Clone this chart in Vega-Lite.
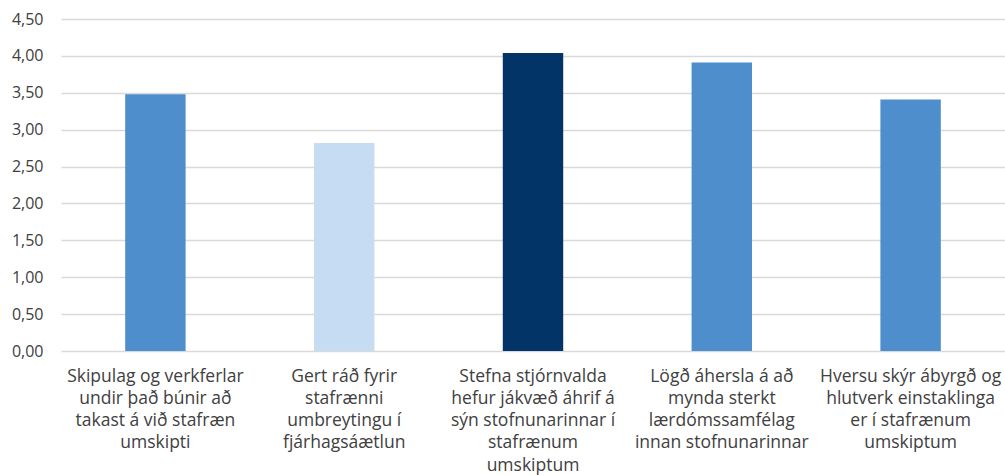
{
  "$schema": "https://vega.github.io/schema/vega-lite/v6.json",
  "width": 944,
  "height": 332,
  "autosize": {"type": "none"},
  "padding": {"left": 61, "top": 19, "right": 0, "bottom": 124},
  "background": "white",
  "data": {
    "values": [
      {"flokkur": "Skipulag og verkferlar\nundir það búnir að\ntakast á við stafræn\numskipti", "gildi": 3.48, "litur": "mid"},
      {"flokkur": "Gert ráð fyrir\nstafrænni\numbreytingu í\nfjárhagsáætlun", "gildi": 2.82, "litur": "light"},
      {"flokkur": "Stefna stjórnvalda\nhefur jákvæð áhrif á\nsýn stofnunarinnar í\nstafrænum\numskiptum", "gildi": 4.04, "litur": "dark"},
      {"flokkur": "Lögð áhersla á að\nmynda sterkt\nlærdómssamfélag\ninnan stofnunarinnar", "gildi": 3.91, "litur": "mid"},
      {"flokkur": "Hversu skýr ábyrgð og\nhlutverk einstaklinga\ner í stafrænum\numskiptum", "gildi": 3.41, "litur": "mid"}
    ]
  },
  "mark": {"type": "bar"},
  "encoding": {
    "x": {
      "field": "flokkur",
      "type": "nominal",
      "sort": null,
      "scale": {"paddingInner": 0.68, "paddingOuter": 0.34},
      "axis": {
        "title": null,
        "labelAngle": 0,
        "labelExpr": "split(datum.value, '\\n')",
        "labelFont": "Open Sans",
        "labelFontSize": 17.5,
        "labelColor": "#404040",
        "labelLineHeight": 22.3,
        "labelPadding": 16,
        "labelLimit": 300,
        "ticks": false,
        "domain": false,
        "grid": false
      }
    },
    "y": {
      "field": "gildi",
      "type": "quantitative",
      "scale": {"domain": [0, 4.5], "nice": false},
      "axis": {
        "title": null,
        "values": [0, 0.5, 1, 1.5, 2, 2.5, 3, 3.5, 4, 4.5],
        "labelExpr": "replace(format(datum.value, '.2f'), '.', ',')",
        "labelFont": "Open Sans",
        "labelFontSize": 16,
        "labelColor": "#404040",
        "labelPadding": 18,
        "ticks": false,
        "domain": false,
        "grid": true,
        "gridColor": "#d9d9d9",
        "gridWidth": 1.5
      }
    },
    "color": {
      "field": "litur",
      "type": "nominal",
      "scale": {"domain": ["mid", "light", "dark"], "range": ["#4e8ecc", "#c5dcf3", "#023468"]},
      "legend": null
    }
  },
  "config": {"view": {"stroke": null}}
}
